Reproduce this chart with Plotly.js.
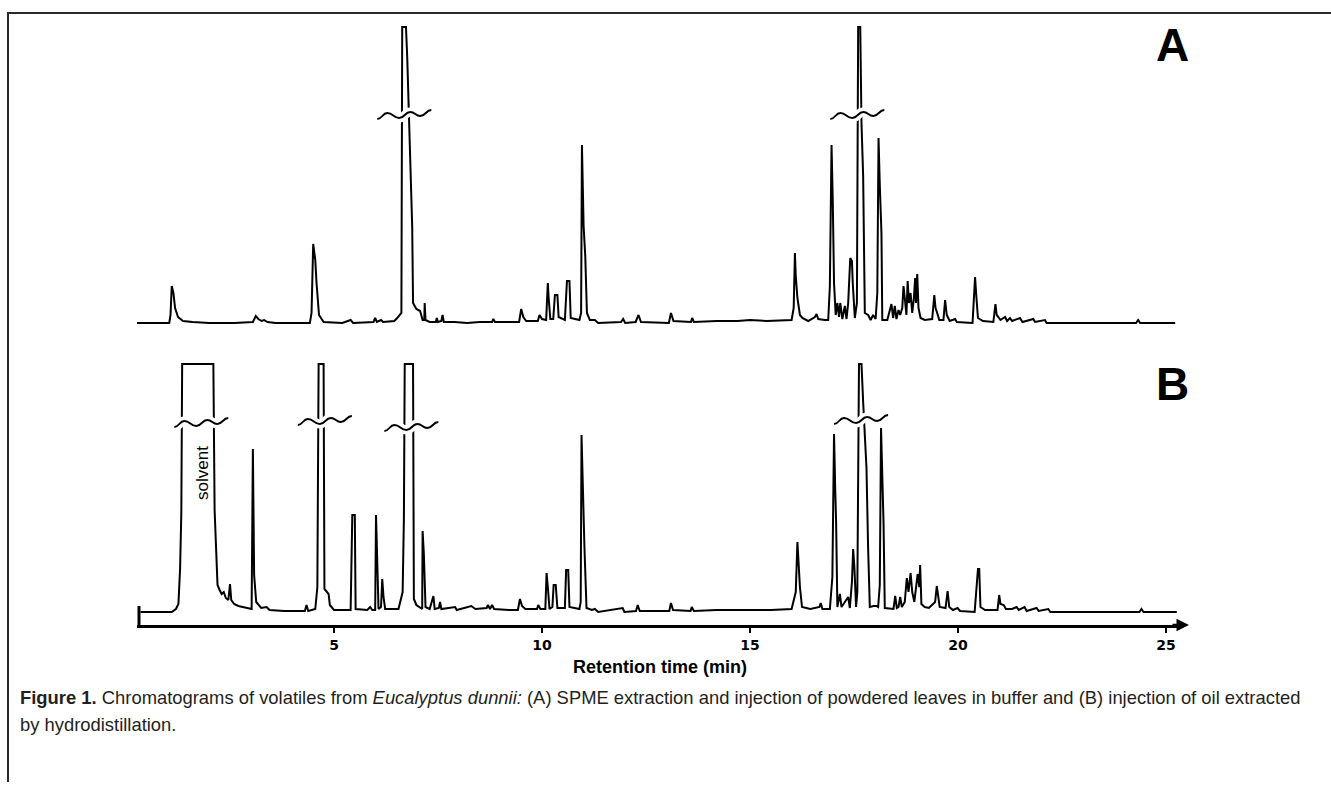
<!DOCTYPE html>
<html>
<head>
<meta charset="utf-8">
<script src="https://cdn.plot.ly/plotly-3.0.1.min.js"></script>
<style>html,body{margin:0;padding:0;background:#fff;}#chart{width:1331px;height:789px;}</style>
</head>
<body>
<div id="chart"></div>
<script>
// ---- Data: chromatogram A (SPME) as [retention time (min), detector response] ----
const chromA = [[0.24,0],[1.04,0],[1.07,8],[1.10,37],[1.14,30],[1.18,15],[1.25,6],[1.37,2],[1.6,1],[2.0,0],[2.6,0],[3.05,1],[3.12,7],[3.18,4],[3.26,2],[3.32,3],[3.4,1],[3.6,0],
[4.42,0],[4.46,10],[4.50,79],[4.55,63],[4.58,40],[4.64,8],[4.75,1],[5.2,0],[5.40,3],[5.46,0],[5.95,1],[5.99,5],[6.03,1],[6.13,3],[6.18,1],[6.45,2],[6.52,5],[6.57,8],[6.62,10],
[6.64,296],[6.73,296],[6.76,266],[6.80,200],[6.84,156],[6.88,96],[6.90,20],[6.98,14],[7.07,12],[7.13,3],[7.17,3],[7.18,20],[7.20,3],[7.3,1],[7.45,1],[7.47,5],[7.50,1],[7.58,2],[7.61,8],[7.64,1],
[7.9,1],[8.2,0],[8.5,1],[8.80,1],[8.83,4],[8.87,1],[9.2,1],[9.45,1],[9.50,14],[9.55,6],[9.62,2],[9.9,2],[9.94,8],[10.0,4],[10.10,3],[10.14,40],[10.16,25],[10.20,4],[10.27,4],[10.31,28],[10.37,28],[10.40,6],
[10.55,3],[10.60,42],[10.66,42],[10.69,5],[10.90,3],[10.94,10],[10.96,178],[11.00,97],[11.04,67],[11.08,10],[11.15,3],[11.27,3],[11.35,0],[11.9,1],[11.95,4],[12.0,0],[12.25,1],[12.32,8],[12.38,1],
[13.05,0],[13.10,10],[13.16,2],[13.58,1],[13.61,5],[13.65,1],[14.2,2],[14.7,2],[15.0,3],[15.4,2],[15.8,3],[16.0,3],[16.05,15],[16.08,70],[16.10,47],[16.14,25],[16.20,8],[16.26,5],[16.4,2],
[16.56,6],[16.60,9],[16.64,4],[16.80,3],[16.88,3],[16.92,37],[16.96,178],[16.99,122],[17.02,40],[17.06,8],[17.10,20],[17.14,6],[17.17,20],[17.22,4],[17.28,17],[17.32,4],[17.36,20],[17.41,65],[17.45,62],[17.47,40],[17.52,5],
[17.57,20],[17.60,296],[17.65,296],[17.68,200],[17.72,147],[17.76,10],[17.84,8],[17.90,3],[17.96,8],[18.02,4],[18.06,30],[18.09,185],[18.12,138],[18.16,90],[18.18,3],[18.30,3],[18.40,19],[18.44,5],[18.48,17],[18.52,4],
[18.57,13],[18.61,8],[18.66,15],[18.69,37],[18.72,25],[18.76,8],[18.79,42],[18.82,20],[18.86,30],[18.90,10],[18.94,25],[18.97,45],[18.99,20],[19.02,49],[19.05,15],[19.10,5],[19.2,3],[19.38,4],[19.43,28],[19.46,15],[19.50,10],[19.55,3],
[19.65,3],[19.69,23],[19.73,8],[19.80,2],[19.93,4],[19.97,1],[20.35,0],[20.38,20],[20.41,46],[20.44,27],[20.48,5],[20.6,2],[20.85,1],[20.90,19],[20.93,8],[20.97,6],[21.02,3],[21.13,6],[21.18,2],[21.25,5],[21.30,2],
[21.49,5],[21.55,1],[21.81,4],[21.85,1],[22.09,3],[22.13,0],[24.28,0],[24.33,3],[24.38,0],[25.22,0]];

// ---- Data: chromatogram B (hydrodistilled oil) ----
const chromB = [[0.35,0],[1.10,0],[1.20,3],[1.26,8],[1.30,43],[1.33,100],[1.35,248],[2.10,248],[2.13,102],[2.18,40],[2.20,27],[2.25,22],[2.30,18],[2.35,20],[2.40,14],[2.46,12],[2.50,28],[2.53,12],[2.60,8],[2.70,6],[2.90,4],
[3.02,3],[3.05,163],[3.08,37],[3.13,10],[3.25,4],[3.38,5],[3.45,2],[3.8,1],[4.30,1],[4.34,7],[4.38,1],[4.55,3],[4.60,25],[4.63,248],[4.75,248],[4.77,23],[4.82,20],[4.87,18],[4.90,7],[5.0,2],
[5.40,2],[5.44,97],[5.50,97],[5.52,3],[5.80,2],[5.87,5],[5.92,2],[5.99,2],[6.01,97],[6.04,60],[6.07,3],[6.13,5],[6.16,33],[6.19,15],[6.23,3],[6.55,3],[6.65,20],[6.68,93],[6.70,248],[6.90,248],[6.92,13],[6.98,7],
[7.08,4],[7.12,3],[7.13,81],[7.16,58],[7.20,5],[7.30,3],[7.39,16],[7.42,3],[7.52,4],[7.55,10],[7.58,3],[7.91,5],[7.95,2],[8.1,4],[8.3,6],[8.4,3],[8.67,4],[8.70,7],[8.75,3],[8.80,7],[8.85,3],
[9.2,2],[9.42,2],[9.47,13],[9.52,6],[9.60,3],[9.88,3],[9.91,7],[9.96,3],[10.08,3],[10.11,39],[10.14,25],[10.18,3],[10.25,5],[10.28,27],[10.33,27],[10.37,4],[10.55,4],[10.58,42],[10.63,42],[10.66,5],
[10.90,3],[10.93,10],[10.95,177],[10.99,96],[11.02,65],[11.07,4],[11.20,2],[11.27,3],[11.35,0],[11.94,4],[11.98,0],[12.26,1],[12.30,7],[12.35,1],[13.06,1],[13.10,9],[13.15,2],[13.57,1],[13.60,5],[13.65,1],
[14.2,2],[14.8,2],[15.04,2],[15.5,2],[16.0,3],[16.10,20],[16.14,70],[16.17,45],[16.20,25],[16.25,5],[16.45,3],[16.67,5],[16.70,9],[16.74,3],[16.92,3],[16.98,35],[17.02,178],[17.05,120],[17.07,90],[17.10,5],
[17.16,18],[17.20,5],[17.36,15],[17.40,4],[17.45,30],[17.48,63],[17.51,44],[17.55,5],[17.58,20],[17.62,248],[17.68,248],[17.72,210],[17.80,144],[17.84,63],[17.88,5],[17.97,6],[18.04,6],[18.08,5],
[18.12,27],[18.15,184],[18.18,138],[18.21,89],[18.24,4],[18.45,3],[18.49,16],[18.53,4],[18.57,5],[18.61,15],[18.65,5],[18.72,10],[18.77,34],[18.81,20],[18.86,39],[18.90,20],[18.95,10],[19.03,38],[19.07,25],[19.09,47],[19.12,8],
[19.20,5],[19.30,4],[19.45,10],[19.49,26],[19.52,15],[19.56,5],[19.70,4],[19.75,21],[19.79,5],[19.88,2],[19.99,4],[20.05,1],[20.40,0],[20.45,24],[20.48,43],[20.51,43],[20.54,5],[20.65,2],[20.95,2],[20.99,17],[21.02,8],
[21.10,7],[21.15,3],[21.30,3],[21.41,5],[21.46,2],[21.60,5],[21.65,1],[21.89,4],[21.94,1],[22.17,3],[22.22,0],[24.36,0],[24.41,3],[24.46,0],[25.26,0]];

const tickValues = [5, 10, 15, 20, 25];
const tickLabels = ['5', '10', '15', '20', '25'];
const panelLabels = ['A', 'B'];
const axisTitle = 'Retention time (min)';
const solventLabel = 'solvent';
const captionLine1 = '<b>Figure 1.</b> Chromatograms of volatiles from <i>Eucalyptus dunnii:</i> (A) SPME extraction and injection of powdered leaves in buffer and (B) injection of oil extracted';
const captionLine2 = 'by hydrodistillation.';
// off-scale peaks marked with a break symbol: [panel, retention time, response level]
const breakMarks = [['A', 6.69, 208], ['A', 17.58, 208], ['B', 1.81, 189], ['B', 4.78, 191], ['B', 6.86, 185], ['B', 17.67, 192]];

// ---- Layout geometry (pixels) ----
const W = 1331, H = 789;
const pxPerMin = 41.6, x0px = 126;            // x pixel of t = 0
const xLeft = 137, xRight = 1182;
const tAt = p => (p - x0px) / pxPerMin;
const py = p => 1 - p / H;
const px = p => p / W;

const lineStyle = {color: '#000', width: 2};
const traces = [
  {x: chromA.map(d => d[0]), y: chromA.map(d => d[1]), xaxis: 'x', yaxis: 'y', mode: 'lines', line: lineStyle, hoverinfo: 'skip'},
  {x: chromB.map(d => d[0]), y: chromB.map(d => d[1]), xaxis: 'x2', yaxis: 'y2', mode: 'lines', line: lineStyle, hoverinfo: 'skip'}
];

// wave-shaped break symbol path (pixel offsets converted to data units)
function wavePath(tc, hc) {
  const pts = [[-27, 4], [-17, -2], [-5, 3], [6, -3], [16, 1], [27, -5]];
  const X = dx => (tc + dx / pxPerMin).toFixed(4);
  const Y = dy => (hc - dy).toFixed(3);
  let d = 'M ' + X(pts[0][0]) + ',' + Y(pts[0][1]);
  for (let i = 0; i < pts.length - 1; i++) {
    const [xa, ya] = pts[i], [xb, yb] = pts[i + 1];
    const m = (xb - xa) / 2;
    d += ' C ' + X(xa + m) + ',' + Y(ya) + ' ' + X(xb - m) + ',' + Y(yb) + ' ' + X(xb) + ',' + Y(yb);
  }
  return d;
}

const shapes = [];
breakMarks.forEach(([panel, t, h]) => {
  const xr = panel === 'A' ? 'x' : 'x2', yr = panel === 'A' ? 'y' : 'y2';
  const p = wavePath(t, h);
  shapes.push({type: 'path', path: p, xref: xr, yref: yr, line: {color: '#fff', width: 9}});
  shapes.push({type: 'path', path: p, xref: xr, yref: yr, line: {color: '#000', width: 1.9}});
});
// figure frame (top and left)
shapes.push({type: 'path', xref: 'paper', yref: 'paper',
  path: 'M ' + px(8) + ',' + py(782) + ' L ' + px(8) + ',' + py(13) + ' L 1,' + py(13),
  line: {color: '#2a2a2a', width: 2}});
// short y-axis stub at the start of the time axis
shapes.push({type: 'line', xref: 'paper', yref: 'paper', x0: px(139), x1: px(139), y0: py(606), y1: py(625), line: {color: '#000', width: 3}});

const annotations = [
  {xref: 'paper', yref: 'paper', x: px(1189), y: py(625), ax: -18, ay: 0, text: '', showarrow: true,
   arrowhead: 2, arrowsize: 1, arrowwidth: 2.5, arrowcolor: '#000', standoff: 0},
  {xref: 'paper', yref: 'paper', x: px(1172), y: py(45), text: panelLabels[0], showarrow: false,
   font: {family: 'Liberation Sans, Arial, sans-serif', size: 46, weight: 'bold', color: '#000'}, xanchor: 'center', yanchor: 'middle'},
  {xref: 'paper', yref: 'paper', x: px(1172), y: py(384), text: panelLabels[1], showarrow: false,
   font: {family: 'Liberation Sans, Arial, sans-serif', size: 46, weight: 'bold', color: '#000'}, xanchor: 'center', yanchor: 'middle'},
  {xref: 'paper', yref: 'paper', x: px(202), y: py(473), text: solventLabel, textangle: -90, showarrow: false,
   font: {family: 'Liberation Sans, Arial, sans-serif', size: 17, color: '#000'}, xanchor: 'center', yanchor: 'middle'},
  {xref: 'paper', yref: 'paper', x: px(660), y: py(667), text: '<b>' + axisTitle + '</b>', showarrow: false,
   font: {family: 'Liberation Sans, Arial, sans-serif', size: 18, color: '#000'}, xanchor: 'center', yanchor: 'middle'},
  {xref: 'paper', yref: 'paper', x: px(18), y: py(697), text: captionLine1, showarrow: false, align: 'left',
   font: {family: 'Liberation Sans Narrow, Arial Narrow, Liberation Sans, sans-serif', size: 18.4, color: '#231f20'}, xanchor: 'left', yanchor: 'middle'},
  {xref: 'paper', yref: 'paper', x: px(18), y: py(724), text: captionLine2, showarrow: false, align: 'left',
   font: {family: 'Liberation Sans Narrow, Arial Narrow, Liberation Sans, sans-serif', size: 18.4, color: '#231f20'}, xanchor: 'left', yanchor: 'middle'}
];

const xRange = [tAt(xLeft), tAt(xRight)];
const xDomain = [px(xLeft), px(xRight)];
const layout = {
  width: W, height: H, margin: {l: 0, r: 0, t: 0, b: 0},
  paper_bgcolor: '#fff', plot_bgcolor: 'rgba(0,0,0,0)', showlegend: false,
  xaxis: {domain: xDomain, range: xRange, anchor: 'y', visible: false, fixedrange: true},
  xaxis2: {domain: xDomain, range: xRange, anchor: 'y2', showline: true, linewidth: 3, linecolor: '#000',
    ticks: 'outside', ticklen: 5, tickwidth: 2, tickcolor: '#000', tickvals: tickValues, ticktext: tickLabels,
    tickfont: {family: 'DejaVu Sans, sans-serif', size: 14, weight: 'bold', color: '#000'},
    showgrid: false, zeroline: false, fixedrange: true},
  yaxis: {domain: [py(331), py(23)], range: [-8, 300], visible: false, fixedrange: true},
  yaxis2: {domain: [py(625), py(360)], range: [-13, 252], visible: false, fixedrange: true},
  shapes: shapes, annotations: annotations
};
Plotly.newPlot('chart', traces, layout, {displayModeBar: false, staticPlot: true});
</script>
</body>
</html>
